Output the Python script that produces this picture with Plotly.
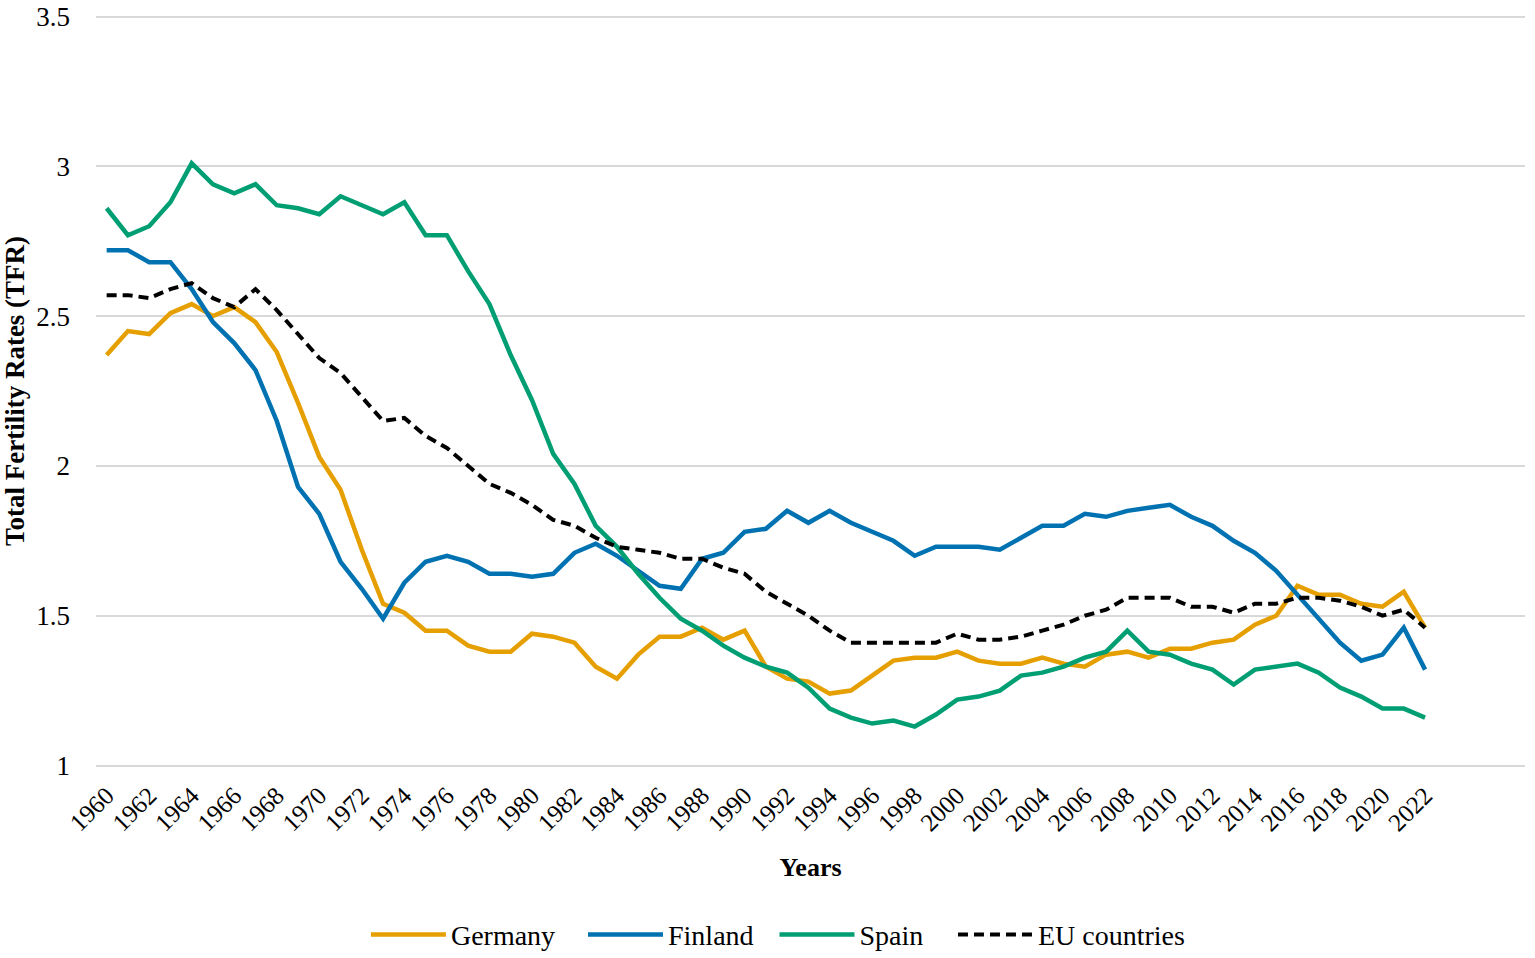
import plotly.graph_objects as go

years = list(range(1960, 2023))

germany = [2.37, 2.45, 2.44, 2.51, 2.54, 2.50, 2.53, 2.48, 2.38, 2.21,
           2.03, 1.92, 1.72, 1.54, 1.51, 1.45, 1.45, 1.40, 1.38, 1.38,
           1.44, 1.43, 1.41, 1.33, 1.29, 1.37, 1.43, 1.43, 1.46, 1.42,
           1.45, 1.33, 1.29, 1.28, 1.24, 1.25, 1.30, 1.35, 1.36, 1.36,
           1.38, 1.35, 1.34, 1.34, 1.36, 1.34, 1.33, 1.37, 1.38, 1.36,
           1.39, 1.39, 1.41, 1.42, 1.47, 1.50, 1.60, 1.57, 1.57, 1.54,
           1.53, 1.58, 1.46]

finland = [2.72, 2.72, 2.68, 2.68, 2.59, 2.48, 2.41, 2.32, 2.15, 1.93,
           1.84, 1.68, 1.59, 1.49, 1.61, 1.68, 1.70, 1.68, 1.64, 1.64,
           1.63, 1.64, 1.71, 1.74, 1.70, 1.65, 1.60, 1.59, 1.69, 1.71,
           1.78, 1.79, 1.85, 1.81, 1.85, 1.81, 1.78, 1.75, 1.70, 1.73,
           1.73, 1.73, 1.72, 1.76, 1.80, 1.80, 1.84, 1.83, 1.85, 1.86,
           1.87, 1.83, 1.80, 1.75, 1.71, 1.65, 1.57, 1.49, 1.41, 1.35,
           1.37, 1.46, 1.32]

spain = [2.86, 2.77, 2.80, 2.88, 3.01, 2.94, 2.91, 2.94, 2.87, 2.86,
         2.84, 2.90, 2.87, 2.84, 2.88, 2.77, 2.77, 2.65, 2.54, 2.37,
         2.22, 2.04, 1.94, 1.80, 1.73, 1.64, 1.56, 1.49, 1.45, 1.40,
         1.36, 1.33, 1.31, 1.26, 1.19, 1.16, 1.14, 1.15, 1.13, 1.17,
         1.22, 1.23, 1.25, 1.30, 1.31, 1.33, 1.36, 1.38, 1.45, 1.38,
         1.37, 1.34, 1.32, 1.27, 1.32, 1.33, 1.34, 1.31, 1.26, 1.23,
         1.19, 1.19, 1.16]

eu = [2.57, 2.57, 2.56, 2.59, 2.61, 2.56, 2.53, 2.59, 2.52, 2.44,
      2.36, 2.31, 2.23, 2.15, 2.16, 2.10, 2.06, 2.00, 1.94, 1.91,
      1.87, 1.82, 1.80, 1.76, 1.73, 1.72, 1.71, 1.69, 1.69, 1.66,
      1.64, 1.58, 1.54, 1.50, 1.45, 1.41, 1.41, 1.41, 1.41, 1.41,
      1.44, 1.42, 1.42, 1.43, 1.45, 1.47, 1.50, 1.52, 1.56, 1.56,
      1.56, 1.53, 1.53, 1.51, 1.54, 1.54, 1.56, 1.56, 1.55, 1.53,
      1.50, 1.52, 1.46]

x_ticks = list(range(1960, 2023, 2))
y_ticks = [1, 1.5, 2, 2.5, 3, 3.5]
y_tick_text = ["1", "1.5", "2", "2.5", "3", "3.5"]

series = [
    ("Germany", germany, "#E69F00", "solid"),
    ("Finland", finland, "#0072B2", "solid"),
    ("Spain", spain, "#009E73", "solid"),
    ("EU countries", eu, "#000000", "10px,6px"),
]

FONT = "Liberation Serif, Times New Roman, serif"

legend_ids = ["legend", "legend2", "legend3", "legend4"]
legend_x = [0.1889, 0.3408, 0.4748, 0.5997]

fig = go.Figure()
for (name, vals, color, dash), lid in zip(series, legend_ids):
    fig.add_trace(go.Scatter(
        x=years, y=vals, mode="lines", name=name, legend=lid,
        line=dict(color=color, width=4.5 if dash == "solid" else 4, dash=dash),
    ))

legend_common = dict(orientation="h", xanchor="left", y=-0.223, yanchor="middle",
                     font=dict(family=FONT, size=28), itemwidth=75,
                     bgcolor="rgba(0,0,0,0)")

layout_kw = dict(
    width=1535, height=958,
    margin=dict(l=96, r=10, t=15, b=191, autoexpand=False),
    paper_bgcolor="white", plot_bgcolor="white",
    font=dict(family=FONT, size=26, color="#000000"),
    showlegend=True,
    xaxis=dict(
        range=[1959.5, 2026.7], tickmode="array", tickvals=x_ticks,
        ticktext=[str(t) for t in x_ticks], tickangle=-45,
        showgrid=False, zeroline=False, showline=False, ticks="",
        automargin=False, ticklabelstandoff=8,
        tickfont=dict(family=FONT, size=25),
        title=dict(text="<b>Years</b>", font=dict(family=FONT, size=26), standoff=22),
    ),
    yaxis=dict(
        range=[0.995, 3.505], tickmode="array", tickvals=y_ticks, ticktext=y_tick_text,
        showgrid=True, gridcolor="#d9d9d9", gridwidth=1.5, zeroline=False,
        showline=False, ticks="", ticklabelstandoff=25, automargin=False,
        ticklabeloverflow="allow",
        tickfont=dict(family=FONT, size=27),
        title=dict(text="<b>Total Fertility Rates (TFR)</b>",
                   font=dict(family=FONT, size=27), standoff=14),
    ),
)
for lid, lx in zip(legend_ids, legend_x):
    layout_kw[lid] = dict(legend_common, x=lx)

fig.update_layout(**layout_kw)

# remove the browser's default 8px body margin so the figure fills the window
fig.write_html("out.html",
               config={"displayModeBar": False},
               post_script="document.body.style.margin='0';document.body.style.padding='0';document.body.style.overflow='hidden';")
